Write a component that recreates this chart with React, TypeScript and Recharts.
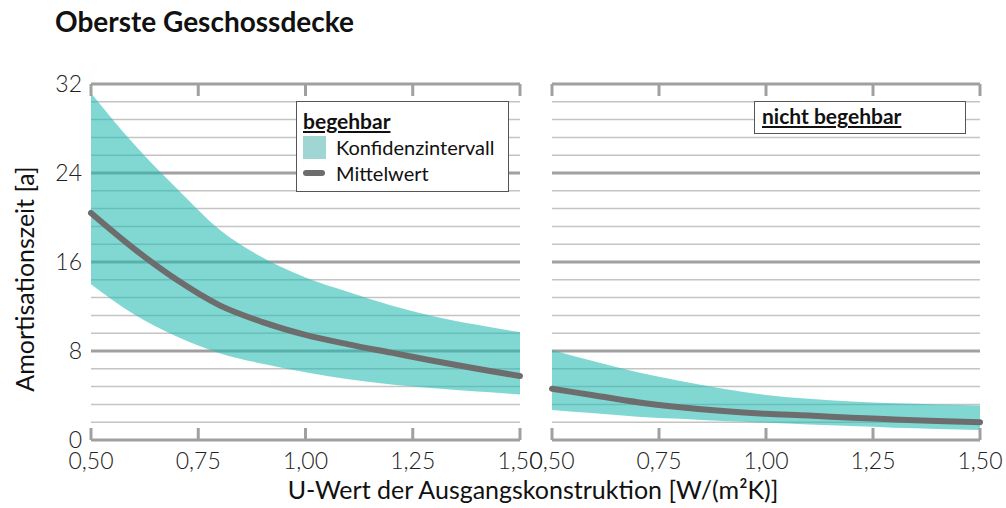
import { ComposedChart, Area, Line, XAxis, YAxis, CartesianGrid, Legend, Label } from "recharts";

const U_VALUES = [0.5, 0.6, 0.7, 0.8, 0.9, 1.0, 1.1, 1.2, 1.3, 1.4, 1.5];

// begehbar
const WALK_LOWER = [14.0, 11.3, 9.3, 7.8, 6.85, 6.1, 5.45, 5.0, 4.65, 4.35, 4.1];
const WALK_UPPER = [31.2, 26.6, 22.6, 18.9, 16.4, 14.6, 13.3, 12.1, 11.1, 10.35, 9.7];
const WALK_MEAN = [20.4, 17.2, 14.4, 12.1, 10.6, 9.45, 8.6, 7.85, 7.1, 6.4, 5.75];

// nicht begehbar
const NOWALK_LOWER = [2.7, 2.4, 2.1, 1.9, 1.7, 1.55, 1.4, 1.25, 1.1, 1.0, 0.9];
const NOWALK_UPPER = [8.1, 7.05, 6.1, 5.3, 4.6, 4.05, 3.7, 3.45, 3.3, 3.2, 3.1];
const NOWALK_MEAN = [4.6, 4.0, 3.4, 2.95, 2.6, 2.35, 2.2, 2.0, 1.85, 1.7, 1.6];

const X_TICKS = [0.5, 0.75, 1.0, 1.25, 1.5];
const Y_TICKS = [0, 8, 16, 24, 32];
const GRID_MINOR = [1.6, 3.2, 4.8, 6.4, 9.6, 11.2, 12.8, 14.4, 17.6, 19.2, 20.8, 22.4, 25.6, 27.2, 28.8, 30.4];
const GRID_MAJOR = [8, 16, 24];

const FONT = "Lato, 'Open Sans', sans-serif";
const AXIS_GRAY = "#a0a0a0";
const BAND = "#26bcb4";
const MEAN = "#6d6d6d";

const walkData = U_VALUES.map((u, i) => ({ u, band: [WALK_LOWER[i], WALK_UPPER[i]], mean: WALK_MEAN[i] }));
const noWalkData = U_VALUES.map((u, i) => ({ u, band: [NOWALK_LOWER[i], NOWALK_UPPER[i]], mean: NOWALK_MEAN[i] }));

const fmt = (v: number) => v.toFixed(2).replace(".", ",");

const BottomTick = (props: any) => {
  const { x, y, payload } = props;
  return (
    <g>
      <line x1={x} y1={y} x2={x} y2={y - 12} stroke={AXIS_GRAY} strokeWidth={3} />
      <text x={x} y={y + 29} textAnchor="middle" fontFamily={FONT} fontWeight={300} fontSize={23} fill="#222">
        {fmt(payload.value)}
      </text>
    </g>
  );
};

const TopTick = (props: any) => {
  const { x, y } = props;
  return <line x1={x} y1={y} x2={x} y2={y + 12} stroke={AXIS_GRAY} strokeWidth={3} />;
};

const LeftTick = (props: any) => {
  const { x, y, payload } = props;
  return (
    <text x={x} y={y + 8} textAnchor="end" fontFamily={FONT} fontWeight={300} fontSize={23} fill="#222">
      {payload.value}
    </text>
  );
};

const YLabel = (props: any) => {
  const { viewBox } = props;
  const x = viewBox.x + 24;
  const y = viewBox.y + viewBox.height / 2 + 17;
  return (
    <text x={x} y={y} transform={`rotate(-90, ${x}, ${y})`} textAnchor="middle" dominantBaseline="central"
      fontFamily={FONT} fontSize={25} fill="#111">
      Amortisationszeit [a]
    </text>
  );
};

const heading: React.CSSProperties = { fontFamily: FONT, fontWeight: 700, fontSize: 21, textDecoration: "underline", color: "#111" };

const WalkLegend = () => (
  <div style={{ border: "1.5px solid #555", width: 213, height: 91, boxSizing: "border-box", padding: "5px 6px", fontFamily: FONT, fontSize: 20, color: "#111", background: "#fff", lineHeight: "27px" }}>
    <div style={heading}>begehbar</div>
    <div style={{ display: "flex", alignItems: "center" }}>
      <span style={{ width: 23, height: 23, background: "#9fd6d3", marginRight: 10 }} />
      Konfidenzintervall
    </div>
    <div style={{ display: "flex", alignItems: "center", lineHeight: "24px" }}>
      <span style={{ width: 22, height: 6, borderRadius: 3, background: MEAN, marginRight: 11 }} />
      Mittelwert
    </div>
  </div>
);

const NoWalkLegend = () => (
  <div style={{ border: "1.5px solid #555", width: 212, height: 33, boxSizing: "border-box", padding: "0px 7px", background: "#fff", lineHeight: "28px" }}>
    <div style={heading}>nicht begehbar</div>
  </div>
);

const Panel = ({ data, width, left, right, showY, legend, legendPos }: any) => (
  <ComposedChart width={width} height={508} data={data} margin={{ top: 83, right, bottom: 0, left }}>
    <CartesianGrid vertical={false} horizontalValues={GRID_MINOR} stroke="#c4c4c4" strokeWidth={1.5} />
    <CartesianGrid vertical={false} horizontalValues={GRID_MAJOR} stroke={AXIS_GRAY} strokeWidth={3} />
    <XAxis dataKey="u" type="number" domain={[0.5, 1.5]} ticks={X_TICKS} interval={0} height={68}
      axisLine={{ stroke: AXIS_GRAY, strokeWidth: 3 }} tickLine={false} tickSize={0} tickMargin={0} tick={<BottomTick />} />
    <XAxis xAxisId="top" orientation="top" dataKey="u" type="number" domain={[0.5, 1.5]} ticks={X_TICKS} interval={0} height={1}
      axisLine={{ stroke: AXIS_GRAY, strokeWidth: 3 }} tickLine={false} tickSize={0} tickMargin={0} tick={<TopTick />} />
    <YAxis type="number" domain={[0, 32]} ticks={Y_TICKS} interval={0} width={showY ? 91 : 0} hide={!showY}
      axisLine={false} tickLine={false} tickSize={0} tickMargin={9} tick={<LeftTick />}>
      {showY && <Label content={<YLabel />} />}
    </YAxis>
    <Area dataKey="band" type="monotone" stroke="none" fill={BAND} fillOpacity={0.58} isAnimationActive={false} />
    <Line dataKey="mean" type="monotone" stroke={MEAN} strokeWidth={6} strokeLinecap="round" dot={false} activeDot={false} isAnimationActive={false} />
    <Legend layout="horizontal" verticalAlign="middle" align="center" content={legend}
      wrapperStyle={{ left: legendPos[0], top: legendPos[1], width: "auto", height: "auto" }} />
  </ComposedChart>
);

export default function App() {
  return (
    <div style={{ position: "fixed", left: 0, top: 0, width: 1006, height: 508, background: "#fff", overflow: "hidden" }}>
      <div style={{ position: "absolute", left: 55, top: 4, fontFamily: FONT, fontWeight: 700, fontSize: 28, color: "#111" }}>
        Oberste Geschossdecke
      </div>
      <div style={{ position: "absolute", left: 0, top: 0 }}>
        <Panel data={walkData} width={560} left={0} right={40} showY legend={<WalkLegend />} legendPos={[296, 101]} />
      </div>
      <div style={{ position: "absolute", left: 520, top: 0 }}>
        <Panel data={noWalkData} width={486} left={32} right={26} showY={false} legend={<NoWalkLegend />} legendPos={[234, 101]} />
      </div>
      <div style={{ position: "absolute", left: 0, width: 1066, top: 474, textAlign: "center", fontFamily: FONT, fontSize: 25, color: "#111" }}>
        U-Wert der Ausgangskonstruktion [W/(m²K)]
      </div>
    </div>
  );
}
